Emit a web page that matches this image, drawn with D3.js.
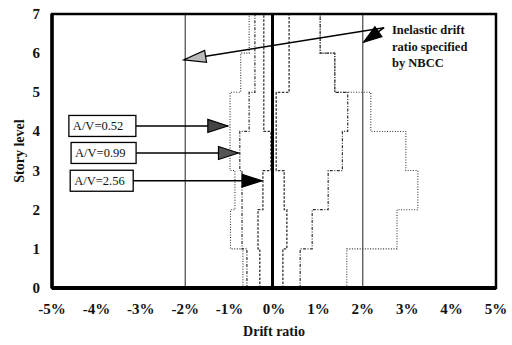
<!DOCTYPE html>
<html><head><meta charset="utf-8">
<script src="https://cdn.jsdelivr.net/npm/d3@7"></script>
<style>body{margin:0;background:#fff}svg{display:block}text{font-family:"Liberation Serif","Times New Roman",serif;fill:#111}</style>
</head><body><svg id="c" width="512" height="345"></svg>
<script>
// Data
const stories = [0,1,2,3,4,5,6,7];
const xTicks = [-5,-4,-3,-2,-1,0,1,2,3,4,5];
const xTickLabels = ["-5%","-4%","-3%","-2%","-1%","0%","1%","2%","3%","4%","5%"];
const ratios = ["A/V=0.52","A/V=0.99","A/V=2.56"];
// max drift ratio (%) per storey segment (storey 0-1 ... 6-7)
const negAV052 = [-0.70,-0.98,-0.88,-0.99,-0.99,-0.75,-0.56];
const posAV052 = [1.64,2.77,3.24,2.97,2.18,1.37,1.04];
const negAV099 = [-0.61,-0.72,-0.72,-0.77,-0.56,-0.43,-0.43];
const posAV099 = [0.59,0.86,1.22,1.54,1.66,1.37,1.04];
const negAV256 = [-0.32,-0.36,-0.25,-0.07,-0.23,-0.23,-0.23];
const posAV256 = [0.20,0.29,0.23,0.05,0.05,0.34,0.34];
const nbccLimits = [-2,2];

const svg = d3.select("#c");
const x = d3.scaleLinear().domain([-5,5]).range([52,496]);
const y = d3.scaleLinear().domain([0,7]).range([288,14]);

// reference lines
svg.selectAll(".nbcc").data(nbccLimits).enter().append("line")
  .attr("x1",d=>x(d)).attr("x2",d=>x(d)).attr("y1",y(0)).attr("y2",y(7))
  .attr("stroke","#222").attr("stroke-width",1);

// step profiles
const profiles = [
  {v:negAV052, dash:"1,1.6", w:1.1},
  {v:posAV052, dash:"1,1.6", w:1.1},
  {v:negAV099, dash:"3,1.5,1,1.5", w:1.2},
  {v:posAV099, dash:"3,1.5,1,1.5", w:1.2},
  {v:negAV256, dash:"2.5,1.5", w:1.3},
  {v:posAV256, dash:"2.5,1.5", w:1.3}
];
const line = d3.line().x(d=>x(d[0])).y(d=>y(d[1]));
profiles.forEach(p=>{
  const pts=[];
  p.v.forEach((v,i)=>{pts.push([v,stories[i]]);pts.push([v,stories[i+1]]);});
  svg.append("path").attr("d",line(pts)).attr("fill","none")
    .attr("stroke","#333").attr("stroke-width",p.w).attr("stroke-dasharray",p.dash);
});

// zero line
svg.append("line").attr("x1",x(0)-1.5).attr("x2",x(0)-1.5).attr("y1",y(0)).attr("y2",y(7))
  .attr("stroke","#000").attr("stroke-width",3);

// frame
svg.append("rect").attr("x",x(-5)).attr("y",y(7)).attr("width",x(5)-x(-5)).attr("height",y(0)-y(7))
  .attr("fill","none").attr("stroke","#000").attr("stroke-width",2.5);
svg.append("line").attr("x1",x(-5)).attr("x2",x(5)).attr("y1",y(0)).attr("y2",y(0)).attr("stroke","#000").attr("stroke-width",4);
svg.append("line").attr("x1",x(-5)).attr("x2",x(-5)).attr("y1",y(0)).attr("y2",y(7)).attr("stroke","#000").attr("stroke-width",3.5);

// axes tick labels
svg.selectAll(".xt").data(xTicks).enter().append("text")
  .attr("x",d=>x(d)).attr("y",314).attr("text-anchor","middle")
  .attr("font-size",15).attr("font-weight","bold").text((d,i)=>xTickLabels[i]);
svg.selectAll(".yt").data(stories).enter().append("text")
  .attr("x",40).attr("y",d=>y(d)+5).attr("text-anchor","end")
  .attr("font-size",15).attr("font-weight","bold").text(d=>d);
svg.append("text").attr("x",x(0)).attr("y",336).attr("text-anchor","middle")
  .attr("font-size",14).attr("font-weight","bold").text("Drift ratio");
svg.append("text").attr("transform",`translate(24,${(y(0)+y(7))/2}) rotate(-90)`)
  .attr("text-anchor","middle").attr("font-size",14).attr("font-weight","bold").text("Story level");

// arrowhead helper
function arrow(x1,y1,x2,y2,fill,len,half){
  svg.append("line").attr("x1",x1).attr("y1",y1).attr("x2",x2).attr("y2",y2)
    .attr("stroke","#000").attr("stroke-width",1.6);
  const a=Math.atan2(y2-y1,x2-x1);
  const bx=x2-len*Math.cos(a), by=y2-len*Math.sin(a);
  const px=-Math.sin(a)*half, py=Math.cos(a)*half;
  svg.append("path").attr("d",`M${x2},${y2}L${bx+px},${by+py}L${bx-px},${by-py}Z`)
    .attr("fill",fill).attr("stroke","#000").attr("stroke-width",1.2);
}

// A/V labels with arrows (positions in data units)
const labelBoxes = [
  {t:ratios[0], bx:-4.62, by:4.14, tx:-1.04, fill:"#444", w:67},
  {t:ratios[1], bx:-4.57, by:3.45, tx:-0.80, fill:"#555", w:65},
  {t:ratios[2], bx:-4.59, by:2.74, tx:-0.27, fill:"#000", w:63}
];
labelBoxes.forEach(b=>{
  const x0=x(b.bx), yc=y(b.by);
  arrow(x0+b.w,yc,x(b.tx),yc,b.fill,20,6.5);
  svg.append("rect").attr("x",x0).attr("y",yc-10.5).attr("width",b.w).attr("height",21)
    .attr("fill","#fff").attr("stroke","#000").attr("stroke-width",1.3);
  svg.append("text").attr("x",x0+4).attr("y",yc+4.5).attr("font-size",12.5).text(b.t);
});

// NBCC annotation
arrow(x(2.48),y(6.65),x(-2.03),y(5.83),"#bbb",22,6);
arrow(x(2.48),y(6.65),x(2.02),y(6.28),"#000",18,6);
const nb=["Inelastic drift","ratio specified","by NBCC"];
svg.selectAll(".nb").data(nb).enter().append("text")
  .attr("x",392).attr("y",(d,i)=>34+i*16.5).attr("font-size",12.5).attr("font-weight","bold").text(d=>d);
</script></body></html>
